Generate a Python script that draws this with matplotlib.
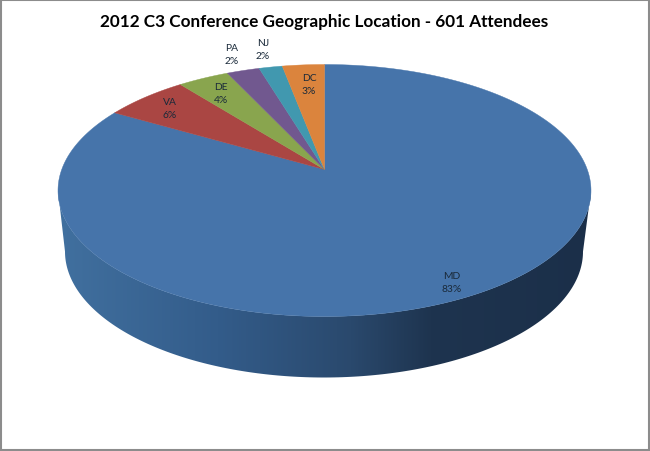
import numpy as np
import matplotlib
matplotlib.use('Agg')
import matplotlib.pyplot as plt
from matplotlib.colors import LinearSegmentedColormap
from matplotlib.patches import Polygon, Rectangle

states = ['MD', 'VA', 'DE', 'PA', 'NJ', 'DC']
# attendee counts estimated from the slice sizes and the rounded labels (total 601)
attendees = [501, 36, 22, 14, 10, 18]
title = '2012 C3 Conference Geographic Location - 601 Attendees'

colors = ['#4674AA', '#AA4643', '#89A54E', '#71588F', '#4198AF', '#DB843D']
label_xy = [(452, 283), (170, 109), (221, 94), (232, 55), (263, 50), (309, 85)]

# ellipse of the top face, in pixels
cx, cy = 324.5, 191.5
rx, ry = 266.5, 126
# the pie centre sits above the ellipse centre because of the perspective
k = 21 / 126
# bottom edge of the side wall
bx, by = 324, 252.5
brx, bry = 259, 126


def project(theta):
    # theta clockwise from 12 o'clock, circle -> tilted ellipse
    u = np.sin(theta)
    v = np.cos(theta)
    d = 1 + k * v
    return cx + rx * u * np.sqrt(1 - k ** 2) / d, cy - ry * (v + k) / d


fig = plt.figure(figsize=(6.5, 4.52), dpi=100)
ax = fig.add_axes([0, 0, 1, 1])
ax.set_xlim(0, 650)
ax.set_ylim(452, 0)
ax.axis('off')

#### side wall with horizontal shading ####
t = np.linspace(0, np.pi, 200)
top_x = cx - rx * np.cos(t)
top_y = cy + ry * np.sin(t)
bot_x = bx - brx * np.cos(t[::-1])
bot_y = by + bry * np.sin(t[::-1])
side = Polygon(np.r_[np.c_[top_x, top_y], np.c_[bot_x, bot_y]], closed=True, fc='none', ec='none')
ax.add_patch(side)
shade = LinearSegmentedColormap.from_list('side', [(0, '#41709F'), (0.3, '#335C8A'), (0.55, '#2A496D'),
                                                   (0.7, '#1E344F'), (1, '#1B2F49')])
im = ax.imshow(np.linspace(0, 1, 256)[None, :], cmap=shade, aspect='auto',
               extent=(58, 591, 379, 190), zorder=1)
im.set_clip_path(side)
ax.set_xlim(0, 650)
ax.set_ylim(452, 0)

#### top face ####
edges = np.r_[0, np.cumsum(attendees)] / np.sum(attendees) * 2 * np.pi
for i in range(len(states)):
    a = np.linspace(edges[i], edges[i + 1], 300)
    x, y = project(a)
    ax.fill(np.r_[cx, x], np.r_[cy - ry * k, y], color=colors[i], lw=0.3, zorder=2)

#### labels ####
total = sum(attendees)
for s, n, (lx, ly) in zip(states, attendees, label_xy):
    ax.text(lx, ly, '%s\n%d%%' % (s, round(100 * n / total)), ha='center', va='center', fontsize=7.4,
            family='Lato', color='#1a2a3a', linespacing=1.5, zorder=3)

ax.text(324, 22, title, ha='center', va='center', fontsize=12.3, fontweight='bold', family='Lato', color='black')

# grey frame of the chart area
ax.add_patch(Rectangle((0.5, 0.5), 648, 450, fc='none', ec='#8c8c8c', lw=1.5, zorder=5))

plt.savefig('out.png', dpi=100)
